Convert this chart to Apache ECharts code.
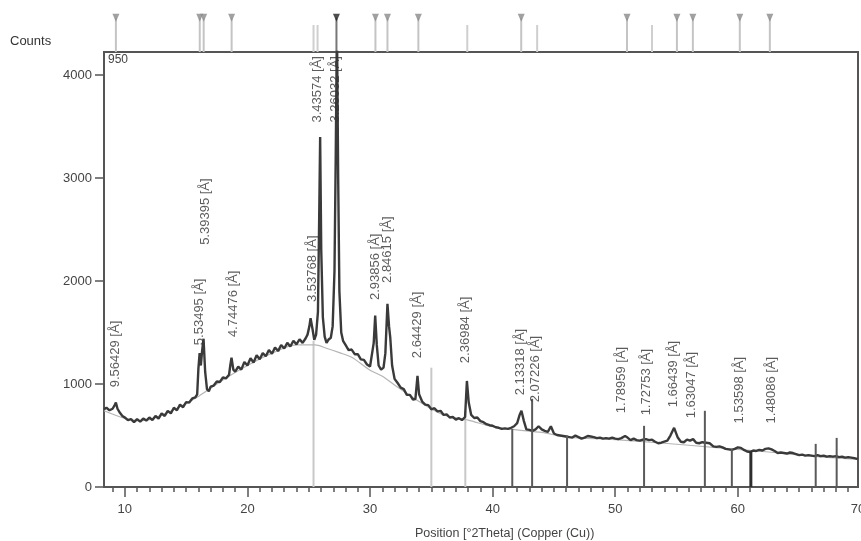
<!DOCTYPE html>
<html>
<head>
<meta charset="utf-8">
<script src="https://cdn.jsdelivr.net/npm/echarts@6/dist/echarts.min.js"></script>
<style>
html,body{margin:0;padding:0;background:#fff;}
#c{width:861px;height:541px;}
</style>
</head>
<body>
<div id="c"></div>
<script>
// ---- measured scan ----
const scanAngle = [8.3,8.5,8.75,9.0,9.15,9.27,9.4,9.6,9.8,10.0,10.25,10.5,10.75,11.0,11.25,11.5,11.75,12.0,12.25,12.5,12.75,13.0,13.25,13.5,13.75,14.0,14.25,14.5,14.75,15.0,15.25,15.5,15.75,15.9,16.0,16.1,16.2,16.3,16.42,16.55,16.7,16.85,17.0,17.25,17.5,17.75,18.0,18.25,18.5,18.6,18.7,18.85,19.0,19.25,19.5,19.75,20.0,20.25,20.5,20.75,21.0,21.25,21.5,21.75,22.0,22.25,22.5,22.75,23.0,23.25,23.5,23.75,24.0,24.25,24.5,24.75,24.9,25.05,25.15,25.3,25.45,25.6,25.75,25.85,25.93,26.02,26.15,26.3,26.45,26.6,26.8,26.95,27.1,27.2,27.3,27.4,27.5,27.65,27.8,28.0,28.25,28.5,28.75,29.0,29.25,29.5,29.75,30.0,30.15,30.3,30.42,30.55,30.7,30.9,31.1,31.25,31.42,31.55,31.65,31.8,32.0,32.25,32.5,32.75,33.0,33.25,33.5,33.7,33.87,34.0,34.25,34.5,34.75,35.0,35.25,35.5,35.75,36.0,36.25,36.5,36.75,37.0,37.25,37.5,37.75,37.9,38.05,38.25,38.5,38.75,39.0,39.25,39.5,39.75,40.0,40.25,40.5,40.75,41.0,41.25,41.5,41.75,42.0,42.2,42.35,42.55,42.75,43.0,43.25,43.5,43.75,44.0,44.25,44.5,44.75,45.0,45.25,45.5,45.75,46.0,46.25,46.5,46.75,47.0,47.25,47.5,47.75,48.0,48.25,48.5,48.75,49.0,49.25,49.5,49.75,50.0,50.25,50.5,50.8,51.0,51.25,51.5,51.75,52.0,52.25,52.5,52.75,53.0,53.25,53.5,53.75,54.0,54.25,54.5,54.8,55.1,55.35,55.6,55.85,56.1,56.35,56.6,56.85,57.1,57.4,57.7,58.0,58.25,58.5,58.75,59.0,59.25,59.5,59.75,60.0,60.25,60.5,60.75,61.0,61.25,61.5,61.75,62.0,62.25,62.5,62.75,63.0,63.25,63.5,63.75,64.0,64.25,64.5,64.75,65.0,65.25,65.5,65.75,66.0,66.25,66.5,66.75,67.0,67.25,67.5,67.75,68.0,68.25,68.5,68.75,69.0,69.25,69.5,69.8];
const scanCounts = [755,770,745,760,790,820,760,720,690,675,650,660,630,660,635,665,645,675,650,690,665,715,690,740,715,770,745,800,775,825,820,860,870,900,1150,1300,1180,1320,1440,1120,950,930,975,985,1025,1020,1065,1055,1090,1180,1256,1140,1120,1170,1140,1215,1180,1250,1210,1280,1240,1300,1270,1330,1295,1355,1320,1380,1345,1400,1365,1420,1385,1435,1400,1445,1480,1560,1640,1540,1430,1480,1700,2600,3400,2300,1650,1460,1400,1430,1450,1560,2100,3200,4500,3000,1900,1500,1420,1380,1330,1335,1290,1290,1240,1235,1190,1170,1185,1400,1665,1380,1180,1140,1160,1300,1780,1560,1450,1180,1050,1010,965,950,895,895,850,855,1080,900,830,800,795,755,765,735,740,700,705,675,680,655,668,650,680,1030,820,700,670,675,640,630,610,600,595,580,575,565,570,565,575,590,620,700,740,640,560,555,545,560,590,560,545,535,590,520,505,500,495,490,485,480,500,485,470,480,495,490,485,475,480,470,475,470,480,470,465,475,495,480,455,470,455,450,460,465,455,460,440,425,430,440,450,500,575,480,440,435,460,450,465,430,425,435,430,425,395,390,395,385,370,365,360,370,385,380,360,345,340,355,350,360,355,370,375,365,350,330,335,330,325,335,330,320,310,315,305,310,305,300,310,300,305,295,300,295,300,290,295,285,290,285,280,270];

// ---- fitted background ----
const bgAngle  = [8.3,10,11,12,14,16,18,20,22,24,25.5,26.5,27.5,28.5,30,31,32,34,36,38,40,42,44,46,50,54,58,62,66,69.8];
const bgCounts = [740,665,645,655,750,880,1040,1180,1300,1380,1380,1345,1305,1260,1135,1075,990,830,700,650,585,555,530,485,460,425,385,345,300,268];

// ---- reference-pattern sticks in the main plot ----
const lightStickAngle  = [25.39,35.0,37.77];
const lightStickCounts = [1420,1159,740];
const darkStickAngle   = [41.60,43.22,46.07,52.35,57.31,59.51,66.35,68.06];
const darkStickCounts  = [565,857,500,594,740,370,419,477];
const heavyStickAngle  = [61.06];
const heavyStickCounts = [350];

// ---- peak labels (d-spacings) ----
const labelAngle = [9.27,16.11,16.6,18.88,25.31,25.72,27.18,30.44,31.42,33.94,37.85,42.33,43.55,50.55,52.59,54.79,56.25,60.16,62.77];
const labelBase  = [964,1373,2347,1451,1792,3535,3535,1811,1977,1246,1198,886,818,711,691,769,662,613,613];
const labelText  = ['9.56429 [Å]','5.53495 [Å]','5.39395 [Å]','4.74476 [Å]','3.53768 [Å]','3.43574 [Å]','3.26032 [Å]','2.93856 [Å]','2.84615 [Å]','2.64429 [Å]','2.36984 [Å]','2.13318 [Å]','2.07226 [Å]','1.78959 [Å]','1.72753 [Å]','1.66439 [Å]','1.63047 [Å]','1.53598 [Å]','1.48086 [Å]'];

// ---- top strip: peak-list markers ----
const markerAngle       = [9.27,16.11,16.43,18.71,30.44,31.42,33.94,42.33,50.96,55.03,56.33,60.16,62.61];
const strongMarkerAngle = [27.26];
const plainMarkerAngle  = [25.39,25.72,37.93,43.63,53.0];

// ---- axis ticks ----
const xMajorTicks = [10,20,30,40,50,60];
const xLabelTicks = [10,20,30,40,50,60,69.8];
const yTicks = [0,1000,2000,3000,4000];

const X_MIN = 8.3, X_MAX = 69.8, Y_MAX = 4225;
const xMinor = [];
for (let v = 9; v <= 69; v++) xMinor.push(v);

const FONT = '"Liberation Sans", Arial, sans-serif';
const zip = (a, b) => a.map((v, i) => [v, b[i]]);

function stickSeries(angles, counts, color, width, xi, yi) {
  return {
    type: 'custom', xAxisIndex: xi, yAxisIndex: yi, clip: true, silent: true,
    data: zip(angles, counts),
    renderItem: (params, api) => {
      const t = api.coord([api.value(0), api.value(1)]);
      const b = api.coord([api.value(0), 0]);
      return { type: 'line', shape: { x1: t[0], y1: t[1], x2: b[0], y2: b[1] },
               style: { stroke: color, lineWidth: width } };
    }
  };
}

const MARK_TOP = 0.9, PLAIN_TOP = 0.71;

const chart = echarts.init(document.getElementById('c'), null, { renderer: 'canvas' });
chart.setOption({
  animation: false,
  backgroundColor: '#ffffff',
  grid: [
    { left: 104, top: 52, width: 754, height: 435, show: true, borderColor: '#555', borderWidth: 2,
      backgroundColor: 'transparent', containLabel: false, outerBoundsMode: 'none' },
    { left: 104, top: 14, width: 754, height: 38, show: false, containLabel: false, outerBoundsMode: 'none' }
  ],
  xAxis: [
    { type: 'value', gridIndex: 0, position: 'bottom', min: X_MIN, max: X_MAX,
      axisLine: { show: true, lineStyle: { color: '#555', width: 2 } },
      splitLine: { show: false },
      axisTick: { show: true, customValues: xMinor, length: 5, lineStyle: { color: '#555', width: 1.5 } },
      axisLabel: { show: true, customValues: xLabelTicks, formatter: v => String(Math.round(v)),
                   color: '#444', fontSize: 13, fontFamily: FONT, margin: 16 } },
    { type: 'value', gridIndex: 0, position: 'bottom', min: X_MIN, max: X_MAX,
      axisLine: { show: false }, splitLine: { show: false },
      axisTick: { show: true, customValues: xMajorTicks, length: 10, lineStyle: { color: '#555', width: 1.5 } },
      axisLabel: { show: false } },
    { type: 'value', gridIndex: 1, min: X_MIN, max: X_MAX, show: false }
  ],
  yAxis: [
    { type: 'value', gridIndex: 0, min: 0, max: Y_MAX,
      axisLine: { show: true, lineStyle: { color: '#555', width: 2 } },
      splitLine: { show: false },
      axisTick: { show: true, customValues: yTicks, length: 9, lineStyle: { color: '#555', width: 1.5 } },
      axisLabel: { show: true, customValues: yTicks, formatter: v => String(v),
                   color: '#444', fontSize: 13, fontFamily: FONT, margin: 12 } },
    { type: 'value', gridIndex: 1, min: 0, max: 1, show: false }
  ],
  series: [
    // top strip lines
    stickSeries(markerAngle, markerAngle.map(() => MARK_TOP), '#c4c4c4', 2, 2, 1),
    stickSeries(plainMarkerAngle, plainMarkerAngle.map(() => PLAIN_TOP), '#cfcfcf', 2, 2, 1),
    stickSeries(strongMarkerAngle, strongMarkerAngle.map(() => MARK_TOP), '#777', 2, 2, 1),
    { type: 'scatter', xAxisIndex: 2, yAxisIndex: 1, silent: true, symbol: 'triangle', symbolRotate: 180,
      symbolSize: [7, 8], itemStyle: { color: '#8a8a8a' },
      data: markerAngle.map(a => [a, MARK_TOP]) },
    { type: 'scatter', xAxisIndex: 2, yAxisIndex: 1, silent: true, symbol: 'triangle', symbolRotate: 180,
      symbolSize: [7, 8], itemStyle: { color: '#222' },
      data: strongMarkerAngle.map(a => [a, MARK_TOP]) },
    // main plot sticks
    stickSeries(lightStickAngle, lightStickCounts, '#c8c8c8', 2, 0, 0),
    // background
    { type: 'line', xAxisIndex: 0, yAxisIndex: 0, silent: true, showSymbol: false, smooth: 0.3,
      lineStyle: { color: '#b5b5b5', width: 1.2 }, data: zip(bgAngle, bgCounts), z: 2 },
    // measured
    { type: 'line', xAxisIndex: 0, yAxisIndex: 0, silent: true, showSymbol: false, clip: true,
      lineStyle: { color: '#3a3a3a', width: 2.4 }, data: zip(scanAngle, scanCounts), z: 3 },
    Object.assign(stickSeries(darkStickAngle, darkStickCounts, '#5a5a5a', 2, 0, 0), { z: 4 }),
    Object.assign(stickSeries(heavyStickAngle, heavyStickCounts, '#2e2e2e', 3, 0, 0), { z: 4 }),
    // peak labels
    { type: 'scatter', xAxisIndex: 0, yAxisIndex: 0, silent: true, symbolSize: 1,
      itemStyle: { color: 'rgba(0,0,0,0)' }, z: 5,
      data: labelAngle.map((a, i) => [a, labelBase[i], labelText[i]]),
      label: { show: true, position: [0, 0], rotate: 90, align: 'left', verticalAlign: 'middle',
               formatter: p => p.value[2], color: '#333', fontSize: 13, fontFamily: FONT } }
  ],
  graphic: [
    { type: 'text', left: 10, top: 35, style: { text: 'Counts', fill: '#333', font: '13px ' + FONT } },
    { type: 'text', left: 108, top: 54, style: { text: '950', fill: '#444', font: '12px ' + FONT } },
    { type: 'text', left: 415, top: 527, style: { text: 'Position [°2Theta] (Copper (Cu))', fill: '#444', font: '12.5px ' + FONT } }
  ]
});
</script>
</body>
</html>
